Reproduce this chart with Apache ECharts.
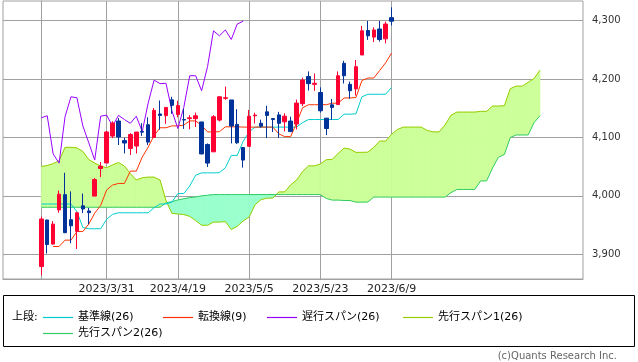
<!DOCTYPE html>
<html><head><meta charset="utf-8">
<script src="https://cdn.jsdelivr.net/npm/echarts@6/dist/echarts.min.js"></script>
<style>html,body{margin:0;padding:0;background:#fff}#c{width:638px;height:362px}</style>
</head><body><div id="c"></div>
<script>
// ---- data ----
const xTickIdx = [11, 23, 35, 47, 59];
const xTickLabels = ['2023/3/31', '2023/4/19', '2023/5/5', '2023/5/23', '2023/6/9'];
const yTicks = [3900, 4000, 4100, 4200, 4300];

const open = [3878.93,3958.69,3917.47,3975.89,4002.04,3959.21,3939.21,3982.93,3974.13,3999.53,4046.74,4056.18,4102.20,4128.03,4094.50,4081.15,4085.20,4110.29,4121.72,4100.04,4140.11,4137.17,4164.26,4139.33,4130.48,4132.14,4132.07,4126.43,4087.78,4075.29,4129.63,4166.79,4164.10,4122.25,4082.61,4084.73,4136.98,4124.25,4143.74,4132.24,4138.54,4126.65,4127.95,4122.85,4157.68,4204.15,4190.78,4176.80,4132.96,4155.71,4156.16,4226.71,4190.74,4183.03,4241.01,4282.99,4271.61,4285.47,4268.69,4304.88];
const close = [3960.28,3916.64,3951.57,4002.87,3936.97,3948.72,3970.99,3977.53,3971.27,4027.81,4050.83,4109.31,4124.51,4100.60,4090.38,4105.02,4109.11,4108.94,4091.95,4146.22,4137.64,4151.32,4154.87,4154.52,4129.79,4133.52,4137.04,4071.63,4055.99,4135.35,4169.48,4167.87,4119.58,4090.75,4061.22,4136.25,4138.12,4119.17,4137.64,4130.62,4124.08,4136.28,4109.90,4158.77,4198.05,4191.98,4192.63,4145.58,4115.24,4151.28,4205.45,4205.52,4179.83,4221.02,4282.37,4273.79,4283.85,4267.52,4293.93,4298.86];
const low = [3864.11,3901.27,3916.89,3971.19,3936.17,3919.05,3909.16,3970.47,3951.53,3999.53,4032.10,4056.18,4098.79,4086.87,4072.56,4069.84,4072.55,4102.61,4086.94,4099.40,4113.20,4123.18,4140.36,4134.49,4114.57,4113.86,4117.77,4071.38,4049.35,4075.29,4127.18,4164.12,4089.72,4088.86,4048.28,4084.73,4123.81,4116.65,4098.92,4109.29,4099.12,4110.27,4109.86,4113.62,4153.50,4180.20,4179.68,4142.54,4103.98,4129.73,4156.16,4192.18,4166.15,4171.64,4241.01,4266.82,4263.09,4263.96,4261.07,4291.70];
const high = [3964.46,3958.91,3956.62,4009.08,4039.49,4007.66,3972.74,4003.83,3979.20,4030.59,4057.85,4110.75,4127.66,4133.13,4099.69,4107.32,4109.50,4124.26,4134.37,4150.26,4163.19,4151.72,4169.48,4162.57,4148.57,4138.02,4142.41,4126.43,4089.67,4138.24,4170.06,4186.92,4164.10,4148.30,4082.61,4147.02,4142.30,4130.35,4154.28,4132.80,4143.74,4141.25,4135.54,4164.67,4202.20,4212.91,4209.22,4185.68,4132.96,4165.74,4212.87,4231.10,4195.44,4232.43,4290.67,4299.28,4288.33,4299.19,4298.01,4322.62];

const tenkan = [null,null,3913.3,3913.3,3924.2,3924.2,3938.9,3938.9,3951.8,3970.4,3983.5,4010.0,4018.4,4021.2,4021.2,4042.3,4042.3,4066.3,4083.2,4103.2,4116.5,4116.5,4119.7,4119.7,4121.0,4128.2,4128.2,4120.4,4109.4,4109.4,4109.7,4118.1,4118.1,4118.1,4117.6,4117.6,4117.6,4117.6,4117.6,4117.6,4106.2,4101.3,4101.3,4124.7,4150.6,4155.9,4155.9,4156.0,4156.0,4158.5,4158.5,4167.5,4167.5,4168.2,4197.3,4201.6,4201.6,4214.5,4227.7,4244.4];
const kijun = [3986,3986,3986,3986,3986,3986,3973,3946,3943.7,3943.7,3943.7,3959.8,3968.3,3971.0,3971.0,3971.0,3971.0,3971.0,3971.0,3979.6,3986.0,3986.0,3989.2,4003.9,4003.9,4016.8,4035.4,4039.3,4039.3,4039.3,4039.6,4048.0,4069.2,4069.2,4093.2,4109.5,4117.6,4117.6,4117.6,4117.6,4117.6,4117.6,4117.6,4117.6,4125.2,4130.6,4130.6,4130.6,4130.6,4130.6,4130.6,4139.7,4139.7,4140.4,4169.5,4173.8,4173.8,4173.8,4173.8,4185.5];
const chikou = [4133.52,4137.04,4071.63,4055.99,4135.35,4169.48,4167.87,4119.58,4090.75,4061.22,4136.25,4138.12,4119.17,4137.64,4130.62,4124.08,4136.28,4109.90,4158.77,4198.05,4191.98,4192.63,4145.58,4115.24,4151.28,4205.45,4205.52,4179.83,4221.02,4282.37,4273.79,4283.85,4267.52,4293.93,4298.86];
const senkouA = [4050,4052,4055,4060,4083,4083,4082,4076,4062,4056,4051,4048,4053,4057,4051,4038,4027,4031,4032,4032,4027,3992,3970,3969,3968,3964.9,3957.7,3949.7,3949.7,3955.1,3955.1,3956.0,3942.5,3947.8,3957.1,3963.6,3984.9,3993.4,3996.1,3996.1,4006.7,4006.7,4018.7,4027.1,4041.4,4051.3,4051.3,4054.5,4061.8,4062.5,4072.5,4081.8,4079.9,4074.4,4074.4,4074.7,4083.1,4093.7,4093.7,4105.4,4113.6,4117.6,4117.6,4117.6,4117.6,4111.9,4109.5,4109.5,4121.2,4137.9,4143.3,4143.3,4143.3,4143.3,4144.6,4144.6,4153.6,4153.6,4154.3,4183.4,4187.7,4187.7,4194.2,4200.8,4215.0];
const senkouB = [3980.5,3980.5,3980.5,3980.5,3980.5,3980.5,3980.5,3980.5,3980.5,3980.5,3980.5,3980.5,3980.5,3980.5,3980.5,3980.5,3980.5,3980.5,3980.5,3980.5,3980.5,3988,3990,3993,3995,3997,3998,4000,4001,4002.2,4002.2,4002.2,4002.2,4002.2,4002.2,4002.2,4002.2,4002.2,4002.2,4002.2,4002.2,4002.2,4002.2,4002.2,4002.2,4002.2,4002.2,4002.2,3995.6,3992.7,3992.7,3992,3992,3989.2,3989.2,3989.5,3997.9,3997.9,3997.9,3997.9,3997.9,3997.9,3997.9,3997.9,3997.9,3997.9,3997.9,3997.9,3997.9,4005.5,4010.9,4010.9,4010.9,4010.9,4025.6,4025.6,4047.6,4066.2,4070.8,4099.9,4104.2,4104.2,4104.2,4125.4,4137.1];

const names = ['基準線(26)', '転換線(9)', '遅行スパン(26)', '先行スパン1(26)', '先行スパン2(26)'];
const colors = ['#00CCCC', '#FF3300', '#9900FF', '#99CC00', '#33CC66'];

// ---- build ----
const pair = arr => arr.map((v, i) => [i, v]);
const candles = open.map((o, i) => [i, o, close[i], low[i], high[i]]);
const cloud = [];
for (let j = 0; j < senkouA.length - 1; j++) cloud.push([j, senkouA[j], senkouB[j], senkouA[j + 1], senkouB[j + 1]]);

const UPC = '#CCFF99', DNC = '#99FFCC';
function renderCloud(params, api) {
  const j = api.value(0), a0 = api.value(1), b0 = api.value(2), a1 = api.value(3), b1 = api.value(4);
  const d0 = a0 - b0, d1 = a1 - b1;
  const poly = (pts, c) => ({ type: 'polygon', shape: { points: pts.map(p => api.coord(p)) }, style: { fill: c, stroke: c, lineWidth: 0.6 } });
  const ch = [];
  if (d0 * d1 >= 0) {
    ch.push(poly([[j, a0], [j + 1, a1], [j + 1, b1], [j, b0]], (d0 + d1) >= 0 ? UPC : DNC));
  } else {
    const t = d0 / (d0 - d1), xc = j + t, yc = a0 + t * (a1 - a0);
    ch.push(poly([[j, a0], [xc, yc], [j, b0]], d0 > 0 ? UPC : DNC));
    ch.push(poly([[xc, yc], [j + 1, a1], [j + 1, b1]], d1 > 0 ? UPC : DNC));
  }
  return { type: 'group', children: ch };
}

const FONT = '"DejaVu Sans", "Noto Sans CJK JP", sans-serif';
const lineSeries = (k, data) => ({
  name: names[k], type: 'line', data, color: colors[k], showSymbol: false, symbol: 'none',
  lineStyle: { color: colors[k], width: 1 }, itemStyle: { color: colors[k] }, z: 3, silent: true
});

const legendPos = [[43, 312], [163, 312], [267, 312], [403, 312], [43, 328]];

const option = {
  animation: false,
  grid: { left: 3, right: 55, top: 1, bottom: 83, show: true, borderColor: '#a0a0a0', borderWidth: 1, containLabel: false, outerBoundsMode: 'none' },
  xAxis: {
    type: 'value', min: -6.45, max: 91.24,
    axisLine: { show: true, lineStyle: { color: '#a0a0a0' } },
    axisTick: { show: false, customValues: xTickIdx },
    axisLabel: { customValues: xTickIdx, formatter: v => xTickLabels[xTickIdx.indexOf(v)] || '', color: '#222', fontSize: 11, fontFamily: FONT, margin: 5 },
    splitLine: { show: true, lineStyle: { color: '#a0a0a0', width: 1 } }
  },
  yAxis: {
    type: 'value', position: 'right', min: 3857.7, max: 4333.4, scale: true,
    axisLine: { show: true, lineStyle: { color: '#a0a0a0' } },
    axisTick: { show: true, inside: false, length: 4, lineStyle: { color: '#a0a0a0' }, customValues: yTicks },
    axisLabel: { customValues: yTicks, formatter: v => echarts.format.addCommas(v), color: '#333', fontSize: 10, fontFamily: FONT, margin: 9 },
    splitLine: { show: true, lineStyle: { color: '#a0a0a0', width: 1 } }
  },
  legend: names.map((n, k) => ({
    data: [{ name: n, icon: 'rect', itemStyle: { color: colors[k], borderWidth: 0, opacity: 1 } }],
    left: legendPos[k][0], top: legendPos[k][1], padding: 0, itemGap: 0,
    itemWidth: 30, itemHeight: 1.2, selectedMode: false,
    itemStyle: { color: colors[k], borderWidth: 0 },
    lineStyle: { color: colors[k], width: 1.2 },
    textStyle: { fontSize: 11, color: '#000', fontFamily: FONT }
  })),
  graphic: [
    { type: 'rect', silent: true, shape: { x: 3.5, y: 295.5, width: 631, height: 51 }, style: { fill: 'none', stroke: '#000', lineWidth: 1 } },
    { type: 'text', silent: true, left: 12, top: 312, style: { text: '上段:', fontSize: 11, fill: '#000', fontFamily: FONT } },
    { type: 'text', silent: true, right: 21, top: 351, style: { text: '(c)Quants Research Inc.', fontSize: 10, fill: '#666', fontFamily: FONT } }
  ],
  series: [
    { type: 'custom', renderItem: renderCloud, data: cloud, encode: { x: 0, y: [1, 2, 3, 4] }, z: 1, silent: true },
    lineSeries(3, pair(senkouA)),
    lineSeries(4, pair(senkouB)),
    lineSeries(0, pair(kijun)),
    lineSeries(1, pair(tenkan)),
    lineSeries(2, pair(chikou)),
    {
      type: 'candlestick', data: candles, barWidth: 4, z: 5, silent: true,
      itemStyle: { color: '#FF0033', color0: '#003399', borderColor: '#FF0033', borderColor0: '#003399', borderWidth: 1 }
    }
  ]
};
const chart = echarts.init(document.getElementById('c'));
chart.setOption(option);
</script></body></html>
